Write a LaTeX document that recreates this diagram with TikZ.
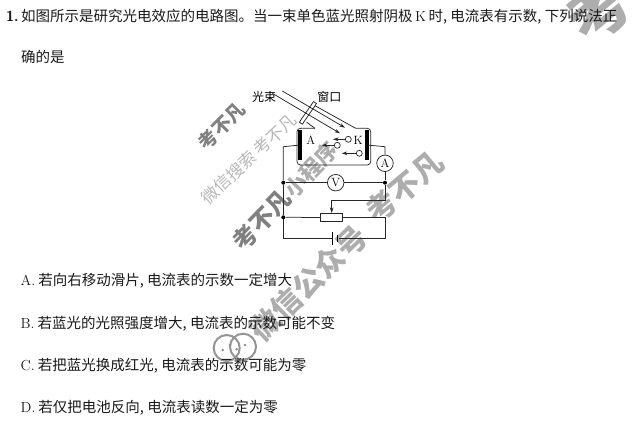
\documentclass[tikz,border=0pt]{standalone}
\usepackage{amsmath}
\usepackage{fontspec}
\usetikzlibrary{arrows.meta}
\newfontfamily\cjk{Noto Sans CJK SC}
\newcommand{\cma}{,\kern3.4pt}
\tikzset{
  txt/.style={anchor=base west,inner sep=0pt,text=black!90,font=\fontsize{14.5}{16}\selectfont\cjk},
  lbl/.style={inner sep=0pt,text=black,font=\fontsize{12}{14}\selectfont\cjk},
  pole/.style={inner sep=0pt,text=black,font=\fontsize{12}{14}\selectfont\rmfamily},
  wire/.style={draw=black!85,line width=0.75pt},
  ray/.style={wire,-{Stealth[length=5.5pt,width=3.6pt]}},
  jct/.style={circle,fill=black,inner sep=0pt,minimum size=4pt},
  meter/.style={circle,draw=black!85,line width=0.75pt,fill=white,inner sep=0pt,minimum size=16.5pt,font=\fontsize{12}{12}\selectfont},
  elec/.style={circle,draw=black!85,line width=0.7pt,fill=white,inner sep=0pt,minimum size=6pt},
  plate/.style={fill=black,inner sep=0pt,minimum width=3.6pt,minimum height=30pt},
  wdark/.style={inner sep=0pt,text=black!50,font=\fontsize{#1}{#1}\selectfont\cjk\bfseries},
  wmid/.style={inner sep=0pt,text=black!32,font=\fontsize{#1}{#1}\selectfont\cjk\bfseries},
  faint/.style={inner sep=0pt,text=black!28,font=\fontsize{#1}{#1}\selectfont\cjk},
  wicon/.style={draw=black!42,line width=2pt},
}
\begin{document}
\begin{tikzpicture}[x=1pt,y=-1pt]
   \useasboundingbox (0,0) rectangle (632,422);
   \clip (0,0) rectangle (632,422);
   % watermarks
   \node[wdark=19,rotate=45] (m1) at (221.7,126) {考不凡};
   \node[faint=17,rotate=43] (m2) at (249,159) {微信搜索\ 考不凡};
   \node[wdark=24,rotate=46] (m3) at (262,220) {考不凡};
   \node[wmid=22,rotate=46] (m3b) at (311,170) {小程序};
   \node[wmid=30,rotate=40] (m4) at (405,187) {考不凡};
   \node[wmid=30,rotate=44] (m5) at (308,283) {微信公众号};
   \node[wmid=62,rotate=40] (m6) at (598,10) {考};
   \draw[wicon] (226.7,348) circle (13);
   \draw[wicon] (243,346.7) circle (13);
   \fill[black!45] (222.7,350) circle (1.4) (230,345) circle (1.4) (236.7,349.3) circle (1.4) (245,345) circle (1.4);
   % question
   \node[txt] (num) at (6,22) {\sffamily\bfseries 1.};
   \node[txt] (q1) at (21,22) {如图所示是研究光电效应的电路图。当一束单色蓝光照射阴极\,{\rmfamily K}\,时\cma 电流表有示数\cma 下列说法正};
   \node[txt] (q2) at (21,63) {确的是};
   \node[txt] (optA) at (20.5,286) {{\rmfamily A.}\kern3pt 若向右移动滑片\cma 电流表的示数一定增大};
   \node[txt] (optB) at (20.5,328) {{\rmfamily B.}\kern3pt 若蓝光的光照强度增大\cma 电流表的示数可能不变};
   \node[txt] (optC) at (20.5,370) {{\rmfamily C.}\kern3pt 若把蓝光换成红光\cma 电流表的示数可能为零};
   \node[txt] (optD) at (20.5,412) {{\rmfamily D.}\kern3pt 若仅把电池反向\cma 电流表读数一定为零};
   % tube
   \coordinate (t1) at (306.7,122.3);
   \coordinate (t2) at (315,128.3);
   \coordinate (t3) at (297,128.3);
   \coordinate (t4) at (297,165);
   \coordinate (t5) at (370.7,165);
   \coordinate (t6) at (370.7,128.3);
   \coordinate (t7) at (355.7,128.3);
   \coordinate (t8) at (315,105.7);
   \draw[wire] (t2) -- (t1);
   \draw[wire] (t7) -- (t8);
   \draw[wire,rounded corners=3.5pt] (t2) -- (t3) -- (t4) -- (t5) -- (t6) -- (t7);
   \node[draw=black!85,line width=0.75pt,fill=white,inner sep=0pt,minimum width=25pt,minimum height=3.6pt,rotate=55.5] (win) at (307.9,112.9) {};
   \node[plate] (plA) at (300,145) {};
   \node[plate] (plK) at (366.7,145) {};
   \node[pole] (lA) at (310.7,140) {A};
   \node[pole] (lK) at (358.3,140) {K};
   \node[lbl] (lBeam) at (264,97.3) {光束};
   \node[lbl] (lWin) at (329.3,97.3) {窗口};
   % light
   \coordinate (r1) at (282.3,91);
   \coordinate (r1e) at (345,127.7);
   \coordinate (r2) at (272.3,93.3);
   \coordinate (r2e) at (340,133.3);
   \draw[ray] (r1) -- (r1e);
   \draw[ray] (r2) -- (r2e);
   % electrons
   \node[elec] (e1) at (348.3,139.3) {};
   \node[elec] (e2) at (337.3,145.3) {};
   \node[elec] (e3) at (359.3,153.3) {};
   \coordinate (e1e) at (333,139.3);
   \coordinate (e2e) at (321.7,145.3);
   \coordinate (e3e) at (341.7,153.3);
   \draw[ray] (e1) -- (e1e);
   \draw[ray] (e2) -- (e2e);
   \draw[ray] (e3) -- (e3e);
   % circuit
   \node[jct] (jv1) at (283.3,182.7) {};
   \node[jct] (jv2) at (385,182.7) {};
   \node[jct] (jr1) at (283.3,217.3) {};
   \node[meter] (mA) at (385,163.3) {A};
   \node[meter] (mV) at (335.7,182.7) {V};
   \node[draw=black!85,line width=0.75pt,fill=white,inner sep=0pt,minimum width=22pt,minimum height=8.4pt] (rheo) at (331.7,217.5) {};
   \coordinate (c1) at (283.3,146.7);
   \coordinate (c2) at (385,146.7);
   \coordinate (c3) at (385,200);
   \coordinate (c4) at (331.7,200);
   \coordinate (c5) at (385,217.5);
   \coordinate (c6) at (385,238.3);
   \coordinate (c7) at (283.3,238.3);
   \node[fill=black,inner sep=0pt,minimum width=0.9pt,minimum height=13.5pt] (batL) at (332.7,238.3) {};
   \node[fill=black,inner sep=0pt,minimum width=1.5pt,minimum height=6.6pt] (batS) at (337.7,238.3) {};
   \draw[wire] (plA) -- (c1) -- (jv1);
   \draw[wire] (plK) -- (c2) -- (mA);
   \draw[wire] (mA) -- (jv2);
   \draw[wire] (jv1) -- (mV);
   \draw[wire] (mV) -- (jv2);
   \draw[wire] (jv1) -- (jr1);
   \draw[wire] (jr1) -- (rheo);
   \draw[wire] (rheo) -- (c5) -- (c6) -- (batS);
   \draw[wire] (jr1) -- (c7) -- (batL);
   \draw[wire] (jv2) -- (c3) -- (c4);
   \draw[ray] (c4) -- (rheo);
\end{tikzpicture}
\end{document}
